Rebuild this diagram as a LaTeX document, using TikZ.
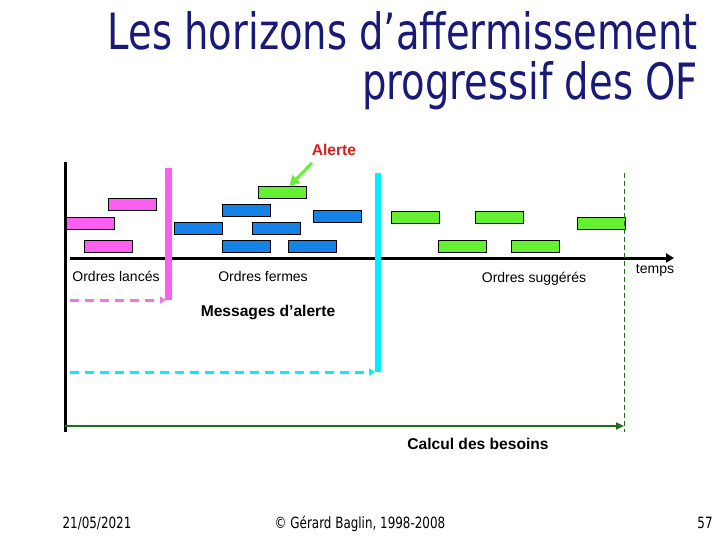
\documentclass[tikz,border=0pt]{standalone}
\usepackage{fontspec}
\setmainfont{Liberation Sans}
\newfontfamily\tah[FakeStretch=0.77]{DejaVu Sans}
\usetikzlibrary{arrows.meta}
\definecolor{pinkc}{RGB}{250,95,240}
\definecolor{pinkd}{RGB}{235,120,230}
\definecolor{bluec}{RGB}{20,130,230}
\definecolor{greenc}{RGB}{102,240,51}
\definecolor{cyanc}{RGB}{0,238,255}
\definecolor{dgreen}{RGB}{30,110,30}
\definecolor{navy}{RGB}{25,25,120}
\definecolor{alertred}{RGB}{210,30,30}
\tikzset{
  bar/.style={draw=black, line width=0.9pt, minimum width=48pt, minimum height=12pt, anchor=north west, inner sep=0pt},
  pinkbar/.style={bar, fill=pinkc},
  bluebar/.style={bar, fill=bluec},
  greenbar/.style={bar, fill=greenc},
  lbl/.style={font=\fontsize{14pt}{16pt}\selectfont, inner sep=0pt},
  blbl/.style={font=\fontsize{15.6pt}{17pt}\selectfont\bfseries, inner sep=0pt},
  foot/.style={font=\tah\fontsize{15.5pt}{17pt}\selectfont, inner sep=0pt, anchor=base},
  ttl/.style={font=\tah\fontsize{50pt}{50pt}\selectfont, text=navy, inner sep=0pt, anchor=base east}
}
\begin{document}
\begin{tikzpicture}[x=1pt,y=-1pt]
\useasboundingbox (0,0) rectangle (720,540);
% title
\node[ttl] (t1) at (698,50) {Les horizons d’affermissement};
\node[ttl] (t2) at (698,100) {progressif des OF};
% axes
\coordinate (vtop) at (65,162);
\coordinate (vbot) at (65,432);
\draw[line width=3pt] (vtop) -- (vbot);
\coordinate (hs) at (70,258);
\coordinate (he) at (674,258);
\draw[line width=3pt,-{Triangle[length=8pt,width=9pt]}] (hs) -- (he);
% pink bars
\node[pinkbar] (p1) at (108,198) {};
\node[pinkbar] (p2) at (66,217) {};
\node[pinkbar] (p3) at (84,240) {};
% blue bars
\node[bluebar] (b1) at (222,204) {};
\node[bluebar] (b2) at (174,222) {};
\node[bluebar] (b3) at (252,222) {};
\node[bluebar] (b4) at (222,240) {};
\node[bluebar] (b5) at (288,240) {};
\node[bluebar] (b6) at (313,210) {};
% green bars
\node[greenbar] (g0) at (258,186) {};
\node[greenbar] (g1) at (391,211) {};
\node[greenbar] (g2) at (475,211) {};
\node[greenbar] (g3) at (438,240) {};
\node[greenbar] (g4) at (511,240) {};
\node[greenbar] (g5) at (577,217) {};
% pink horizon
\coordinate (pt) at (168,168);
\coordinate (pb) at (168,300);
\draw[pinkc, line width=7pt] (pt) -- (pb);
\coordinate (pds) at (70,300);
\coordinate (pde) at (166,300);
\draw[pinkd, line width=3pt, dash pattern=on 9pt off 6pt, -{Triangle[length=6pt,width=7pt]}] (pds) -- (pde);
% cyan horizon
\coordinate (ct) at (378,173);
\coordinate (cb) at (378,372);
\draw[cyanc, line width=6pt] (ct) -- (cb);
\coordinate (cds) at (70,372);
\coordinate (cde) at (375,372);
\draw[cyanc, line width=3pt, dash pattern=on 9pt off 6pt, -{Triangle[length=6pt,width=7pt]}] (cds) -- (cde);
% green horizon
\coordinate (gt) at (624,173);
\coordinate (gb) at (624,432);
\draw[dgreen, line width=1pt, dash pattern=on 5pt off 3pt] (gt) -- (gb);
\coordinate (gas) at (65,426);
\coordinate (gae) at (624,426);
\draw[dgreen, line width=2pt, -{Triangle[length=8pt,width=7pt]}] (gas) -- (gae);
% alert
\node[blbl, text=alertred] (al) at (334,150) {Alerte};
\coordinate (als) at (312,163);
\draw[greenc, line width=3pt, -{Triangle[length=10pt,width=11pt]}] (als) -- ([xshift=7pt]g0.north);
% labels
\node[lbl] (ol) at (116,276) {Ordres lancés};
\node[lbl] (of) at (263,276) {Ordres fermes};
\node[lbl] (os) at (534,279) {Ordres suggérés};
\node[lbl] (tp) at (655,270) {temps};
\node[blbl] (ma) at (268,312) {Messages d’alerte};
\node[blbl] (cb2) at (478,444) {Calcul des besoins};
% footer
\node[foot] (f1) at (97,528) {21/05/2021};
\node[foot] (f2) at (360,528) {© Gérard Baglin, 1998-2008};
\node[foot] (f3) at (705,528) {57};
\end{tikzpicture}
\end{document}
